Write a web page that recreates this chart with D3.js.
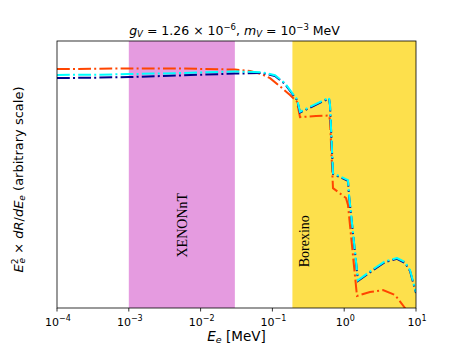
<!DOCTYPE html>
<meta charset="utf-8">
<style>
body { margin: 0; background: #fff; }
text { font-family: "DejaVu Sans", sans-serif; fill: #000; }
.band text { font-family: "Liberation Serif", serif; font-size: 14px; }
</style>
<body>
<script src="https://d3js.org/d3.v7.min.js"></script>
<script>

// energies in MeV
let navyE = [1e-4, 3.97e-4, 1e-3, 5.16e-3, 0.0301, 0.0716, 0.1087, 0.1276, 0.1497, 0.1935, 0.2203, 0.2423,
             0.614, 0.634, 0.698, 1.129, 1.166, 1.556, 2.518, 3.70, 5.43, 7.03, 8.25, 10];
let navyY = [86.1, 86.3, 86.5, 87.1, 87.8, 88.0, 86.9, 85.4, 83.9, 79.8, 77.9, 73.2,
             78.5, 76.0, 50.2, 47.6, 42.3, 10.1, 14.2, 17.2, 18.4, 16.9, 13.9, 5.6];
let cyanY = [87.3, 87.4, 87.6, 88.0, 88.6, 88.3, 87.2, 85.7, 84.2, 80.1, 78.2, 73.5,
             78.8, 76.3, 50.5, 47.9, 42.6, 10.4, 14.5, 17.5, 18.7, 17.2, 14.2, 5.9];
let orangeE = [1e-4, 1e-3, 5.16e-3, 0.0301, 0.0488, 0.0716, 0.0927, 0.1276, 0.1758, 0.2203, 0.2423,
               0.4045, 0.614, 0.634, 0.698, 1.059, 1.129, 1.506, 2.286, 3.47, 5.10, 7.03, 8.79, 10];
let orangeY = [89.5, 89.7, 89.7, 89.3, 88.8, 87.5, 86.1, 83.0, 79.8, 77.2, 71.5,
               71.9, 72.1, 70.4, 44.9, 41.2, 38.6, 4.5, 6.0, 6.7, 4.9, 0, -3.7, -6.4];

let bands = [
  {name: "XENONnT", lo: 1e-3, hi: 0.03, color: "#e59be0"},
  {name: "Borexino", lo: 0.19, hi: 10, color: "#fde04c"}
];
let xTicks = [1e-4, 1e-3, 1e-2, 1e-1, 1e0, 1e1];
let xTickExp = ["\u22124", "\u22123", "\u22122", "\u22121", "0", "1"];

let width = 463, height = 347;
let m = {left: 57, right: 47, top: 41, bottom: 39};
let w = width - m.left - m.right, h = height - m.top - m.bottom;

let svg = d3.select("body").append("svg")
    .attr("width", width)
    .attr("height", height);

let x = d3.scaleLog().domain([1e-4, 10]).range([0, w]);
let y = d3.scaleLinear().domain([0, 100]).range([h, 0]);

let g = svg.append("g").attr("transform", `translate(${m.left},${m.top})`);

svg.append("defs").append("clipPath").attr("id", "clip")
  .append("rect").attr("width", w).attr("height", h);

let bg = g.append("g").attr("class", "band");
bg.selectAll("rect").data(bands).enter().append("rect")
    .attr("x", d => x(d.lo))
    .attr("width", d => x(d.hi) - x(d.lo))
    .attr("y", 0)
    .attr("height", h)
    .attr("fill", d => d.color);

let labelPos = [{e: 0.0055, y: 0.69}, {e: 0.275, y: 0.75}];
bg.selectAll("text").data(bands).enter().append("text")
    .attr("transform", (d, i) => `translate(${x(labelPos[i].e) + 5},${h * labelPos[i].y}) rotate(-90)`)
    .attr("text-anchor", "middle")
    .text(d => d.name);

let line = d3.line().x(d => x(d[0])).y(d => y(d[1]));
let series = [
  {e: orangeE, v: orangeY, color: "#ff4500"},
  {e: navyE, v: navyY, color: "#00008b"},
  {e: navyE, v: cyanY, color: "#00ffff"}
];
let lg = g.append("g").attr("clip-path", "url(#clip)");
series.forEach(s => {
  lg.append("path")
    .datum(s.e.map((e, i) => [e, s.v[i]]))
    .attr("d", line)
    .attr("fill", "none")
    .attr("stroke", s.color)
    .attr("stroke-width", 2)
    .attr("stroke-dasharray", "12.8,3.2,2,3.2");
});

g.append("rect")
    .attr("width", w).attr("height", h)
    .attr("fill", "none").attr("stroke", "#000").attr("stroke-width", 0.8);

let xa = g.append("g").attr("transform", `translate(0,${h})`);
xTicks.forEach((t, i) => {
  xa.append("line").attr("x1", x(t)).attr("x2", x(t)).attr("y1", 0).attr("y2", 3.5)
    .attr("stroke", "#000").attr("stroke-width", 0.8);
  let tx = xa.append("text").attr("x", x(t) + 1).attr("y", 18)
    .attr("text-anchor", "middle").style("font-size", "11px");
  tx.append("tspan").text("10");
  tx.append("tspan").attr("dy", -5).style("font-size", "8px").text(xTickExp[i]);
});

// x label
let xl = svg.append("text").attr("x", m.left + w / 2).attr("y", 341)
    .attr("text-anchor", "middle").style("font-size", "13.5px");
xl.append("tspan").style("font-style", "italic").text("E");
xl.append("tspan").attr("dy", 2).style("font-size", "9.5px").style("font-style", "italic").text("e");
xl.append("tspan").attr("dy", -2).text(" [MeV]");

// y label
let yl = svg.append("text")
    .attr("transform", `translate(23,${m.top + h / 2 + 5}) rotate(-90)`)
    .attr("text-anchor", "middle").style("font-size", "13px");
yl.append("tspan").style("font-style", "italic").text("E");
yl.append("tspan").attr("dy", -5).style("font-size", "9px").text("2");
yl.append("tspan").attr("dx", -5).attr("dy", 7).style("font-size", "9px").style("font-style", "italic").text("e");
yl.append("tspan").attr("dy", -2).text(" \u00d7 ");
yl.append("tspan").style("font-style", "italic").text("dR");
yl.append("tspan").text("/");
yl.append("tspan").style("font-style", "italic").text("dE");
yl.append("tspan").attr("dy", 2).style("font-size", "9px").style("font-style", "italic").text("e");
yl.append("tspan").attr("dy", -2).text(" (arbitrary scale)");

// title
let tt = svg.append("text").attr("x", m.left + w / 2 - 2).attr("y", 35)
    .attr("text-anchor", "middle").style("font-size", "12.5px");
tt.append("tspan").style("font-style", "italic").text("g");
tt.append("tspan").attr("dy", 2).style("font-size", "8.5px").style("font-style", "italic").text("V");
tt.append("tspan").attr("dy", -2).text(" = 1.26 \u00d7 10");
tt.append("tspan").attr("dy", -5).style("font-size", "8.5px").text("\u22126");
tt.append("tspan").attr("dy", 5).text(", ");
tt.append("tspan").style("font-style", "italic").text("m");
tt.append("tspan").attr("dy", 2).style("font-size", "8.5px").style("font-style", "italic").text("V");
tt.append("tspan").attr("dy", -2).text(" = 10");
tt.append("tspan").attr("dy", -5).style("font-size", "8.5px").text("\u22123");
tt.append("tspan").attr("dy", 5).text(" MeV");

</script>
